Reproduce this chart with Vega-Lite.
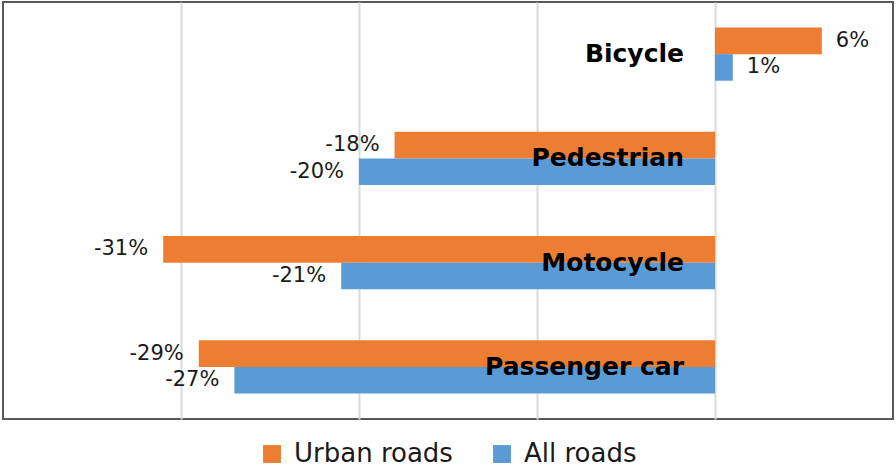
{
  "$schema": "https://vega.github.io/schema/vega-lite/v6.json",
  "width": 890,
  "height": 417,
  "autosize": {"type": "none"},
  "padding": {"left": 3, "top": 2, "right": 3, "bottom": 48},
  "background": "white",
  "config": {
    "font": "DejaVu Sans",
    "view": {"stroke": "#595959", "strokeWidth": 2},
    "legend": {"layout": {"bottom": {"anchor": "middle"}}}
  },
  "data": {
    "values": [
      {"Mode": "Bicycle", "Roads": "Urban roads", "Change": 6, "Label": "6%"},
      {"Mode": "Bicycle", "Roads": "All roads", "Change": 1, "Label": "1%"},
      {"Mode": "Pedestrian", "Roads": "Urban roads", "Change": -18, "Label": "-18%"},
      {"Mode": "Pedestrian", "Roads": "All roads", "Change": -20, "Label": "-20%"},
      {"Mode": "Motocycle", "Roads": "Urban roads", "Change": -31, "Label": "-31%"},
      {"Mode": "Motocycle", "Roads": "All roads", "Change": -21, "Label": "-21%"},
      {"Mode": "Passenger car", "Roads": "Urban roads", "Change": -29, "Label": "-29%"},
      {"Mode": "Passenger car", "Roads": "All roads", "Change": -27, "Label": "-27%"}
    ]
  },
  "encoding": {
    "y": {
      "field": "Mode",
      "type": "nominal",
      "sort": ["Bicycle", "Pedestrian", "Motocycle", "Passenger car"],
      "axis": null,
      "scale": {"paddingInner": 0.49, "paddingOuter": 0.245}
    }
  },
  "layer": [
    {
      "mark": {"type": "bar"},
      "encoding": {
        "x": {
          "field": "Change",
          "type": "quantitative",
          "scale": {"domain": [-40, 10], "nice": false},
          "axis": {
            "values": [-30, -20, -10, 0],
            "grid": true,
            "gridColor": "#D9D9D9",
            "gridWidth": 2,
            "labels": false,
            "ticks": false,
            "domain": false,
            "title": null
          }
        },
        "yOffset": {"field": "Roads", "type": "nominal", "sort": ["Urban roads", "All roads"]},
        "color": {
          "field": "Roads",
          "type": "nominal",
          "scale": {"domain": ["Urban roads", "All roads"], "range": ["#ED7D31", "#5B9BD5"]},
          "legend": {
            "orient": "bottom",
            "direction": "horizontal",
            "title": null,
            "symbolType": "square",
            "symbolSize": 320,
            "symbolStrokeWidth": 0,
            "symbolOpacity": 1,
            "labelFontSize": 26,
            "labelColor": "#1a1a1a",
            "labelOffset": 9,
            "columnPadding": 36,
            "offset": 22
          }
        }
      }
    },
    {
      "transform": [{"filter": "datum.Change >= 0"}],
      "mark": {"type": "text", "align": "left", "baseline": "middle", "dx": 14, "fontSize": 21, "color": "#1a1a1a"},
      "encoding": {
        "x": {"field": "Change", "type": "quantitative"},
        "yOffset": {"field": "Roads", "type": "nominal", "sort": ["Urban roads", "All roads"]},
        "text": {"field": "Label"}
      }
    },
    {
      "transform": [{"filter": "datum.Change < 0"}],
      "mark": {"type": "text", "align": "right", "baseline": "middle", "dx": -15, "fontSize": 21, "color": "#1a1a1a"},
      "encoding": {
        "x": {"field": "Change", "type": "quantitative"},
        "yOffset": {"field": "Roads", "type": "nominal", "sort": ["Urban roads", "All roads"]},
        "text": {"field": "Label"}
      }
    },
    {
      "transform": [{"filter": "datum.Roads == 'Urban roads'"}],
      "mark": {"type": "text", "align": "right", "baseline": "middle", "dx": -31, "fontSize": 25, "fontWeight": "bold", "color": "#000000"},
      "encoding": {
        "x": {"datum": 0, "type": "quantitative"},
        "text": {"field": "Mode"}
      }
    }
  ]
}
